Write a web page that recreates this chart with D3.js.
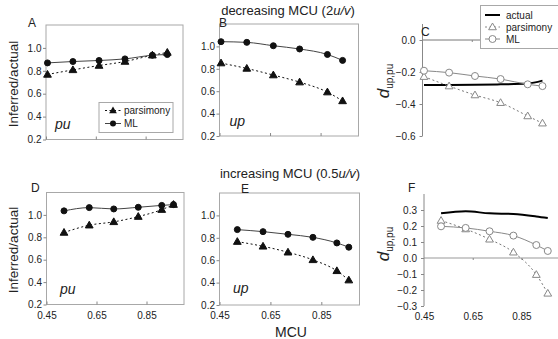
<!DOCTYPE html>
<html><head><meta charset="utf-8">
<script src="https://cdn.jsdelivr.net/npm/d3@7"></script>
<style>
body{margin:0;background:#fff}
svg{display:block}
text{font-family:"Liberation Sans",Arial,sans-serif;fill:#222}
</style>
</head><body>
<svg id="chart" width="558" height="339"></svg>
<script>
// ---- data ----
const mcuTop = [0.456, 0.558, 0.663, 0.767, 0.877, 0.937];
const mcuBottom = [0.52, 0.621, 0.719, 0.817, 0.911, 0.958];
const xTicks = [0.45, 0.65, 0.85];
const ratioTicks = [0.2, 0.4, 0.6, 0.8, 1.0];
const dTopTicks = [0.0, -0.2, -0.4, -0.6];
const dBottomTicks = [0.3, 0.2, 0.1, 0.0, -0.1, -0.2, -0.3];

const A_ml   = [0.869, 0.881, 0.890, 0.904, 0.936, 0.942];
const A_pars = [0.768, 0.808, 0.846, 0.881, 0.936, 0.960];
const B_ml   = [1.042, 1.036, 1.006, 0.977, 0.928, 0.875];
const B_pars = [0.851, 0.803, 0.744, 0.681, 0.592, 0.513];
const C_actual = [-0.281, -0.281, -0.280, -0.277, -0.272, -0.254];
const C_pars = [-0.229, -0.288, -0.344, -0.392, -0.475, -0.520];
const C_ml   = [-0.192, -0.204, -0.225, -0.244, -0.277, -0.288];
const D_ml   = [1.036, 1.065, 1.053, 1.068, 1.085, 1.092];
const D_pars = [0.843, 0.908, 0.938, 0.985, 1.047, 1.092];
const E_ml   = [0.873, 0.855, 0.831, 0.804, 0.754, 0.716];
const E_pars = [0.766, 0.724, 0.671, 0.603, 0.505, 0.422];
const F_actual = [0.279, 0.292, 0.279, 0.275, 0.260, 0.250];
const F_pars = [0.234, 0.181, 0.117, 0.036, -0.104, -0.221];
const F_ml   = [0.198, 0.188, 0.167, 0.140, 0.081, 0.044];

const svg = d3.select("#chart");
const fmt = d3.format(".1f");
const triangle = d3.symbol().type(d3.symbolTriangle).size(26);

function styleAxis(g){
  g.select(".domain").remove();
  g.selectAll(".tick line").attr("stroke","#888");
  g.selectAll(".tick text").attr("font-size",10).attr("fill","#222")
    .attr("font-family",'"Liberation Sans",Arial,sans-serif');
}

function drawSeries(g, x, y, xs, vals, opt){
  const pts = xs.map((v,i)=>[v, vals[i]]);
  const line = d3.line().x(d=>x(d[0])).y(d=>y(d[1])).curve(d3.curveMonotoneX);
  g.append("path").attr("d", line(pts)).attr("fill","none")
    .attr("stroke", opt.stroke).attr("stroke-width", opt.width || 1)
    .attr("stroke-dasharray", opt.dash || null);
  if (opt.marker === "circle"){
    g.selectAll(null).data(pts).enter().append("circle")
      .attr("cx",d=>x(d[0])).attr("cy",d=>y(d[1])).attr("r", opt.r || 3)
      .attr("fill", opt.fill).attr("stroke", opt.mstroke || opt.fill).attr("stroke-width",1);
  } else if (opt.marker === "triangle"){
    g.selectAll(null).data(pts).enter().append("path")
      .attr("d", triangle).attr("transform", d=>`translate(${x(d[0])},${y(d[1])+0.5})`)
      .attr("fill", opt.fill).attr("stroke", opt.mstroke || opt.fill).attr("stroke-width",1);
  }
}

function ratioPanel(cfg){
  const x = d3.scaleLinear().domain([0.45, 1.0]).range([cfg.x0, cfg.x1]);
  const y = d3.scaleLinear().domain([0.2, 1.2]).range([cfg.y1, cfg.y0]);
  const g = svg.append("g");
  g.append("rect").attr("x",cfg.x0).attr("y",cfg.y0)
    .attr("width",cfg.x1-cfg.x0).attr("height",cfg.y1-cfg.y0)
    .attr("fill","none").attr("stroke","#a8a8a8").attr("stroke-width",1);
  g.append("g").attr("transform",`translate(${cfg.x0},0)`)
    .call(d3.axisLeft(y).tickValues(ratioTicks).tickFormat(fmt).tickSize(3).tickPadding(1.5))
    .call(styleAxis);
  const xa = d3.axisBottom(x).tickValues(xTicks).tickSize(-3).tickPadding(7)
    .tickFormat(cfg.xLabels ? d3.format(".2f") : "");
  g.append("g").attr("transform",`translate(0,${cfg.y1})`).call(xa).call(styleAxis);
  drawSeries(g, x, y, cfg.xs, cfg.pars, {stroke:"#111", dash:"2,2.5", marker:"triangle", fill:"#111"});
  drawSeries(g, x, y, cfg.xs, cfg.ml, {stroke:"#444", marker:"circle", fill:"#111", r:3});
  g.append("text").attr("x",cfg.letter[0]).attr("y",cfg.letter[1]).attr("font-size",12).text(cfg.name);
  g.append("text").attr("x",cfg.lab[0]).attr("y",cfg.lab[1]).attr("font-size",14)
    .attr("font-style","italic").text(cfg.label);
  return {x,y,g};
}

function diffPanel(cfg){
  const x = d3.scaleLinear().domain([0.45, 1.0]).range([cfg.x0, cfg.x1]);
  const y = d3.scaleLinear().domain(cfg.ydom).range([cfg.y1, cfg.y0]);
  const g = svg.append("g");
  // zero line (acts as x axis)
  g.append("line").attr("x1",x(0.45)).attr("x2",x(1.0)).attr("y1",y(0)).attr("y2",y(0))
    .attr("stroke",cfg.zeroColor).attr("stroke-width",cfg.zeroWidth);
  g.append("g").attr("transform",`translate(0,${y(0)})`)
    .call(d3.axisBottom(x).tickValues(xTicks.slice(1)).tickSize(2).tickFormat(""))
    .call(styleAxis);
  g.append("line").attr("x1",cfg.x0).attr("x2",cfg.x0).attr("y1",cfg.y0).attr("y2",cfg.y1)
    .attr("stroke","#888");
  g.append("g").attr("transform",`translate(${cfg.x0},0)`)
    .call(d3.axisLeft(y).tickValues(cfg.ticks).tickFormat(fmt).tickSize(3).tickPadding(4))
    .call(styleAxis);
  if (cfg.xLabels){
    g.append("g").attr("transform",`translate(0,${cfg.y1})`)
      .call(d3.axisBottom(x).tickValues(xTicks).tickSize(0).tickPadding(7).tickFormat(d3.format(".2f")))
      .call(styleAxis);
  }
  drawSeries(g, x, y, cfg.xs, cfg.actual, {stroke:"#000", width:2});
  drawSeries(g, x, y, cfg.xs, cfg.pars, {stroke:"#777", dash:"2,2.5", marker:"triangle", fill:"#fff", mstroke:"#888"});
  drawSeries(g, x, y, cfg.xs, cfg.ml, {stroke:"#888", marker:"circle", fill:"#fff", mstroke:"#888", r:3.5});
  g.append("text").attr("x",cfg.letter[0]).attr("y",cfg.letter[1]).attr("font-size",12).text(cfg.name);
  const t = g.append("text").attr("transform",`translate(${cfg.dlab[0]},${cfg.dlab[1]}) rotate(-90)`)
    .attr("text-anchor","middle");
  t.append("tspan").attr("font-style","italic").attr("font-size",17).text("d");
  t.append("tspan").attr("font-size",10).attr("dy",4).text("up,pu");
  return {x,y,g};
}

ratioPanel({name:"A", x0:46, x1:183, y0:25, y1:139.5, xs:mcuTop, ml:A_ml, pars:A_pars,
  letter:[28,27], lab:[55,128.5], label:"pu", xLabels:false});
ratioPanel({name:"B", x0:219.5, x1:358.5, y0:24, y1:136, xs:mcuTop, ml:B_ml, pars:B_pars,
  letter:[219,27], lab:[229.5,126], label:"up", xLabels:false});
ratioPanel({name:"D", x0:46.5, x1:184, y0:192.5, y1:304.5, xs:mcuBottom, ml:D_ml, pars:D_pars,
  letter:[31,192], lab:[60,294], label:"pu", xLabels:true});
ratioPanel({name:"E", x0:219.5, x1:359.5, y0:193, y1:305, xs:mcuBottom, ml:E_ml, pars:E_pars,
  letter:[241,193], lab:[233,293], label:"up", xLabels:true});

diffPanel({name:"C", x0:422.5, x1:558, y0:24, y1:136, ydom:[-0.6,0.1], ticks:dTopTicks,
  xs:mcuTop, actual:C_actual, pars:C_pars, ml:C_ml, zeroColor:"#777", zeroWidth:1,
  letter:[421,36], dlab:[389,81], xLabels:false});
diffPanel({name:"F", x0:424, x1:558, y0:194, y1:306, ydom:[-0.3,0.4], ticks:dBottomTicks,
  xs:mcuBottom, actual:F_actual, pars:F_pars, ml:F_ml, zeroColor:"#bbb", zeroWidth:1.5,
  letter:[408,192], dlab:[389,244], xLabels:true});

// Legend A
(function(){
  const g = svg.append("g");
  g.append("rect").attr("x",99).attr("y",102.5).attr("width",74).attr("height",30)
    .attr("fill","#fff").attr("stroke","#a8a8a8");
  const items = [{n:"parsimony", dash:"2,2.5", m:"triangle"}, {n:"ML", dash:null, m:"circle"}];
  items.forEach((d,i)=>{
    const yy = 110.5 + i*13;
    g.append("line").attr("x1",105).attr("x2",121).attr("y1",yy).attr("y2",yy)
      .attr("stroke", i ? "#444" : "#111").attr("stroke-dasharray", d.dash);
    if (d.m === "circle") g.append("circle").attr("cx",113).attr("cy",yy).attr("r",3).attr("fill","#111");
    else g.append("path").attr("d",triangle).attr("transform",`translate(113,${yy+0.5})`).attr("fill","#111");
    g.append("text").attr("x",124).attr("y",yy+3.5).attr("font-size",10).text(d.n);
  });
})();

// Legend C
(function(){
  const g = svg.append("g");
  g.append("rect").attr("x",480.5).attr("y",5.5).attr("width",85).attr("height",43)
    .attr("fill","#fff").attr("stroke","#a8a8a8");
  const items = [{n:"actual"}, {n:"parsimony", m:"triangle"}, {n:"ML", m:"circle"}];
  items.forEach((d,i)=>{
    const yy = 15 + i*12;
    g.append("line").attr("x1",485).attr("x2",500).attr("y1",yy).attr("y2",yy)
      .attr("stroke", i===0 ? "#000" : "#888").attr("stroke-width", i===0 ? 2 : 1)
      .attr("stroke-dasharray", i===1 ? "2,2.5" : null);
    if (d.m === "circle") g.append("circle").attr("cx",492.5).attr("cy",yy).attr("r",3.5).attr("fill","#fff").attr("stroke","#888");
    if (d.m === "triangle") g.append("path").attr("d",triangle).attr("transform",`translate(492.5,${yy+0.5})`).attr("fill","#fff").attr("stroke","#888");
    g.append("text").attr("x",506).attr("y",yy+3.5).attr("font-size",10).text(d.n);
  });
})();

// Titles and shared labels
function title(x, y, pre, it, post){
  const t = svg.append("text").attr("x",x).attr("y",y).attr("text-anchor","middle").attr("font-size",13);
  t.append("tspan").text(pre);
  t.append("tspan").attr("font-style","italic").text(it);
  t.append("tspan").text(post);
}
title(288, 14.5, "decreasing MCU (2", "u/v", ")");
title(290, 178, "increasing MCU (0.5", "u/v", ")");

svg.append("text").attr("transform","translate(17.5,84) rotate(-90)").attr("text-anchor","middle")
  .attr("font-size",13.5).text("Inferred/actual");
svg.append("text").attr("transform","translate(17.5,250) rotate(-90)").attr("text-anchor","middle")
  .attr("font-size",13.5).text("Inferred/actual");
svg.append("text").attr("x",291).attr("y",336.5).attr("text-anchor","middle").attr("font-size",14).text("MCU");
</script>
</body></html>
